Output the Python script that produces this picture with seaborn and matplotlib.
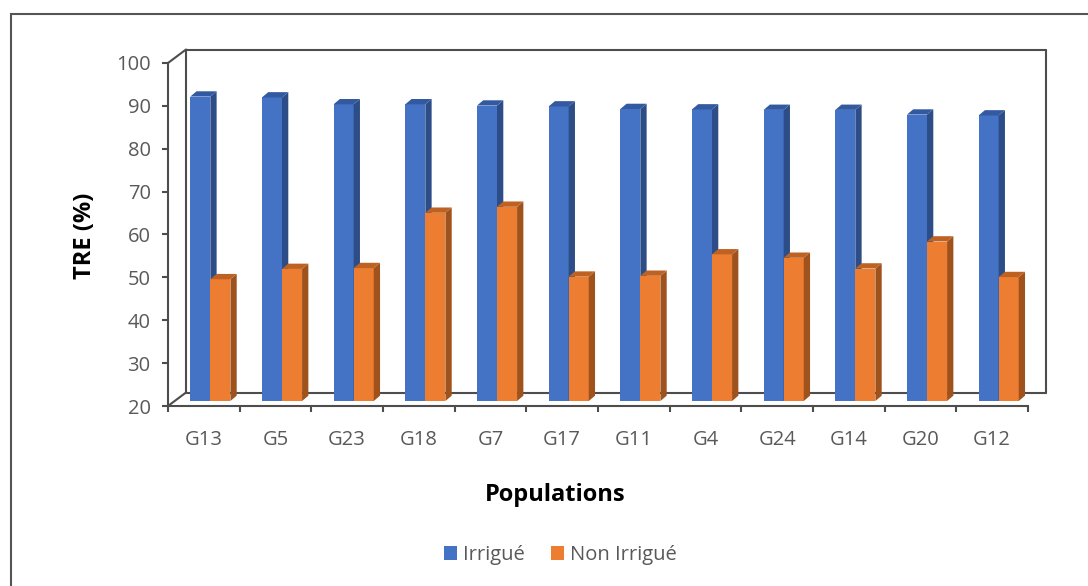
import numpy as np
import pandas as pd
import matplotlib
matplotlib.use("Agg")
import matplotlib.pyplot as plt
import seaborn as sns
from matplotlib.transforms import ScaledTranslation
from matplotlib.patches import Polygon, Rectangle, Patch
from matplotlib.lines import Line2D

# ---- data ----
populations = ["G13", "G5", "G23", "G18", "G7", "G17", "G11", "G4", "G24", "G14", "G20", "G12"]
irrigue = [91.0, 90.8, 89.2, 89.2, 88.9, 88.7, 88.1, 88.0, 87.9, 87.9, 86.8, 86.6]
non_irrigue = [48.4, 50.8, 51.0, 63.9, 65.3, 49.0, 49.2, 54.2, 53.4, 50.9, 57.2, 48.9]
series = ["Irrigué", "Non Irrigué"]
y_ticks = [20, 30, 40, 50, 60, 70, 80, 90, 100]

df = pd.DataFrame({
    "Population": populations * 2,
    "TRE": irrigue + non_irrigue,
    "Régime": [series[0]] * len(populations) + [series[1]] * len(populations),
})

front_col = {"Irrigué": "#4472C4", "Non Irrigué": "#ED7D31"}
side_col = {"Irrigué": "#2C4D87", "Non Irrigué": "#A0521C"}
top_col = {"Irrigué": "#3359A0", "Non Irrigué": "#BD6223"}

sns.set_theme(style="white")
plt.rcParams["font.family"] = ["Open Sans", "DejaVu Sans"]

W, H = 1088, 586
DPI = 100
fig = plt.figure(figsize=(W / DPI, H / DPI), dpi=DPI)
fig.patch.set_facecolor("white")

# front plane of the 3D box
L, R, T, B = 168, 1028, 63, 406
ax = fig.add_axes([L / W, 1 - B / H, (R - L) / W, (B - T) / H])
ax.set_facecolor("none")

sns.barplot(data=df, x="Population", y="TRE", hue="Régime", order=populations,
            hue_order=series, palette=front_col, width=0.56, gap=0,
            saturation=1, legend=False, linewidth=0, ax=ax)

ax.set_xlim(-0.5, len(populations) - 0.5)
ax.set_ylim(20, 100)

grey = "#595959"
line_c = "#4D4D4D"
lw = 1.5

# depth geometry (pixels)
px_x = (R - L) / len(populations)
px_y = (B - T) / 80.0
bar_shift = ScaledTranslation(6.5 / DPI, 5 / DPI, fig.dpi_scale_trans)
trans_bar = ax.transData + bar_shift
ddx = 6.3 / px_x
ddy = 5.3 / px_y

patches = sorted(ax.patches, key=lambda p: p.get_x())
nser = len(series)
for i, p in enumerate(patches):
    x0, w, top = p.get_x(), p.get_width(), p.get_height()
    name = series[0] if abs(top - 0) < 0 else None
    # identify series by colour
    fc = matplotlib.colors.to_hex(p.get_facecolor())
    name = series[0] if fc.lower() == front_col[series[0]].lower() else series[1]
    p.set_y(20)
    p.set_height(top - 20)
    p.set_transform(trans_bar)
    p.set_clip_on(False)
    z = 3 + i * 0.01
    p.set_zorder(z)
    x1 = x0 + w
    side = Polygon([(x1, 20), (x1 + ddx, 20 + ddy), (x1 + ddx, top + ddy), (x1, top)],
                   closed=True, facecolor=side_col[name], edgecolor="none",
                   transform=trans_bar, clip_on=False, zorder=z + 0.001)
    topf = Polygon([(x0, top), (x1, top), (x1 + ddx, top + ddy), (x0 + ddx, top + ddy)],
                   closed=True, facecolor=top_col[name], edgecolor="none",
                   transform=trans_bar, clip_on=False, zorder=z + 0.002)
    ax.add_patch(side)
    ax.add_patch(topf)

# spines (front left axis and front floor)
for s in ["top", "right"]:
    ax.spines[s].set_visible(False)
for s in ["left", "bottom"]:
    ax.spines[s].set_color(line_c)
    ax.spines[s].set_linewidth(lw)
    ax.spines[s].set_zorder(10)

# back wall of the box
back = ScaledTranslation(18 / DPI, 13.5 / DPI, fig.dpi_scale_trans)
tb = ax.transAxes + back
for xs, ys in [([0, 1], [1, 1]), ([1, 1], [0, 1]), ([0, 1], [0, 0]), ([0, 0], [0, 1])]:
    ax.add_line(Line2D(xs, ys, transform=tb, color=line_c, lw=lw, clip_on=False, zorder=1))
# diagonals from the front corners to the back wall
for yy in [0, 1]:
    x_pts = [0, 18]
    y_pts = [0, 13.5]
    bbox = ax.get_position()
    fx = bbox.x0
    fy = bbox.y0 + yy * bbox.height
    ax.add_line(Line2D([fx, fx + 18 / W], [fy, fy + 13.5 / H], transform=fig.transFigure,
                       color=line_c, lw=lw, clip_on=False, zorder=1))

# ticks
ax.set_yticks(y_ticks)
ax.set_yticklabels([str(v) for v in y_ticks])
ax.tick_params(axis="y", which="major", left=True, direction="out", length=4.5, width=lw,
               color=line_c, labelcolor=grey, labelsize=14.5, pad=8)
ax.set_xticks(range(len(populations)))
ax.set_xticklabels(populations)
ax.set_xticks(np.arange(-0.5, len(populations), 1.0), minor=True)
ax.tick_params(axis="x", which="major", bottom=True, length=0, labelcolor=grey,
               labelsize=14.5, pad=17)
ax.tick_params(axis="x", which="minor", bottom=True, direction="out", length=4.5,
               width=lw, color=line_c)
ax.set_xlabel("")
ax.set_ylabel("")

# axis titles
fig.text(85 / W, 1 - 236 / H, "TRE (%)", rotation=90, ha="center", va="center",
         fontsize=17, fontweight="bold", color="black")
fig.text(555 / W, 1 - 495 / H, "Populations", ha="center", va="center",
         fontsize=17, fontweight="bold", color="black")

# legend
handles = [Patch(facecolor=front_col[s], edgecolor="none") for s in series]
leg = fig.legend(handles, series, loc="center", bbox_to_anchor=(560 / W, 1 - 555 / H),
                 ncol=2, frameon=False, fontsize=14.5, handlelength=0.65,
                 handleheight=0.65, handletextpad=0.3, columnspacing=1.3)
for t in leg.get_texts():
    t.set_color(grey)

# chart area border
fig.add_artist(Rectangle((10.5 / W, -0.05), 1.1, 1 - 14 / H + 0.05, transform=fig.transFigure,
                         fill=False, edgecolor="#555555", lw=1.5, zorder=0))

fig.savefig("out.png", dpi=DPI)
